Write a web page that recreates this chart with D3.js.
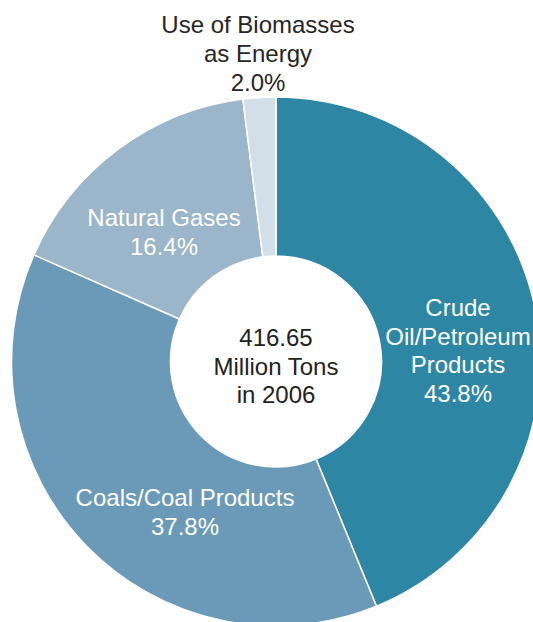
<!DOCTYPE html>
<html>
<head>
<meta charset="utf-8">
<script src="https://cdn.jsdelivr.net/npm/d3@7"></script>
<style>
  html, body { margin: 0; padding: 0; background: #fff; overflow: hidden; }
  svg { display: block; font-family: "Liberation Sans", Arial, Helvetica, sans-serif; }
</style>
</head>
<body>
<svg id="chart" width="533" height="622"></svg>
<script>
// Energy consumption by source, 2006 (share of total, %)
const categories = [
  ["Crude", "Oil/Petroleum", "Products"],
  ["Coals/Coal Products"],
  ["Natural Gases"],
  ["Use of Biomasses", "as Energy"]
];
const shares = [43.8, 37.8, 16.4, 2.0];
const totalLines = ["416.65", "Million Tons", "in 2006"];

const colors = ["#2e86a5", "#6b9ab8", "#9bb5ca", "#d3dfe8"];
const labelColors = ["#fff", "#fff", "#fff", "#262626"];

const width = 533, height = 622;
const cx = 276, cy = 361.5;
const outerR = 264.5, innerR = 105.5;
const fontSize = 24, lineH = 28.7;

// label anchor: centre x and first baseline y, per slice
const labelAnchor = [
  { x: 458, y: 316 },
  { x: 185, y: 506 },
  { x: 164, y: 226 },
  { x: 258, y: 33.3 }
];

const svg = d3.select("#chart");
const g = svg.append("g").attr("transform", `translate(${cx},${cy})`);

const data = shares.map((v, i) => ({ lines: categories[i], value: v, i }));

const pie = d3.pie().value(d => d.value).sort(null).startAngle(0).endAngle(2 * Math.PI);
const arc = d3.arc().innerRadius(innerR).outerRadius(outerR);

g.selectAll("path.slice")
  .data(pie(data))
  .join("path")
  .attr("class", "slice")
  .attr("d", arc)
  .attr("fill", d => colors[d.data.i])
  .attr("stroke", "#fff")
  .attr("stroke-width", 1.5)
  .attr("stroke-linejoin", "round");

const fmt = d3.format(".1f");

// slice labels: name lines followed by the percentage
const labels = svg.selectAll("text.label")
  .data(data)
  .join("text")
  .attr("class", "label")
  .attr("text-anchor", "middle")
  .attr("font-size", fontSize)
  .attr("fill", d => labelColors[d.i]);

labels.each(function (d) {
  const t = d3.select(this);
  const a = labelAnchor[d.i];
  const lines = d.lines.concat([fmt(d.value) + "%"]);
  lines.forEach((ln, k) => {
    t.append("tspan").attr("x", a.x).attr("y", a.y + k * lineH).text(ln);
  });
});

// total in the hole of the donut
const center = svg.append("text")
  .attr("text-anchor", "middle")
  .attr("font-size", fontSize)
  .attr("fill", "#222");
totalLines.forEach((ln, k) => {
  center.append("tspan").attr("x", cx).attr("y", 346 + k * lineH).text(ln);
});
</script>
</body>
</html>
